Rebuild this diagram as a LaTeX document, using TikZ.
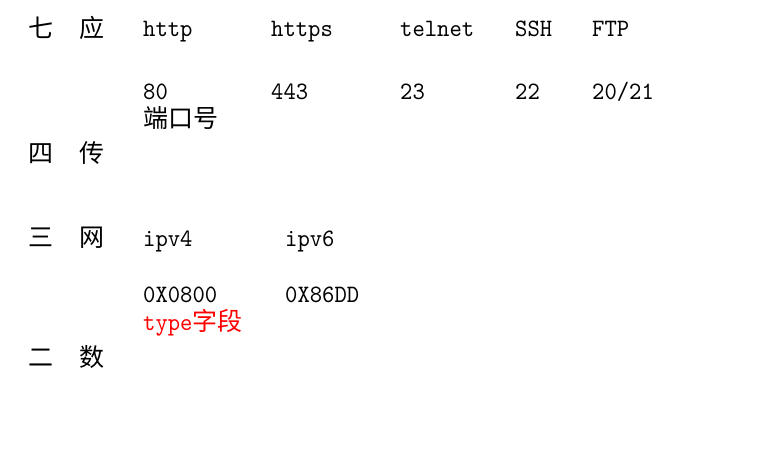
\documentclass[tikz,border=0pt]{standalone}
\usepackage{fontspec}
\usepackage{tikz}
\usetikzlibrary{positioning}
\newfontfamily\cjkfont{Noto Sans CJK SC}
\newfontfamily\latfont[FakeStretch=0.94]{lmmono10-regular.otf}
\definecolor{txtclr}{rgb}{0, 0, 0}
\definecolor{keyclr}{rgb}{1, 0, 0}
\tikzset{ %
  ,every node/.style={inner sep=0, anchor=base west}
  ,layer/.style={font=\cjkfont\fontsize{25}{25}\selectfont, text=txtclr}
  ,proto/.style={font=\latfont\fontsize{25}{25}\selectfont, text=txtclr}
  ,note/.style={font=\cjkfont\fontsize{25}{25}\selectfont, text=txtclr}
  ,field/.style={font=\fontsize{25}{25}\selectfont, text=keyclr}
}
\begin{document}
\begin{tikzpicture}[x=1pt, y=-1pt]
      \useasboundingbox (0,0) rectangle (778,453);
      \draw 
      node[layer] (L7) at (28,37) {七}
      node[layer] (L7n) at (79,37) {应}
      node[proto] (http) at (143,36) {http}
      node[proto] (https) at (271,36) {https}
      node[proto] (telnet) at (400,36) {telnet}
      node[proto] (ssh) at (515,36) {SSH}
      node[proto] (ftp) at (592,36) {FTP}
      node[proto] (p80) at (143,99) {80}
      node[proto] (p443) at (271,99) {443}
      node[proto] (p23) at (400,99) {23}
      node[proto] (p22) at (515,99) {22}
      node[proto] (p2021) at (592,99) {20/21}
      node[note] (port) at (143,127) {端口号}
      node[layer] (L4) at (28,162) {四}
      node[layer] (L4n) at (79,162) {传};
      \draw 
      node[layer] (L3) at (28,246) {三}
      node[layer] (L3n) at (79,246) {网}
      node[proto] (ipv4) at (143,246) {ipv4}
      node[proto] (ipv6) at (285,246) {ipv6}
      node[proto] (t4) at (143,302) {0X0800}
      node[proto] (t6) at (285,302) {0X86DD}
      node[field] (type) at (143,330) {{\latfont type}{\cjkfont\fontsize{25}{25}\selectfont 字段}}
      node[layer] (L2) at (28,366) {二}
      node[layer] (L2n) at (79,366) {数};
\end{tikzpicture}
\end{document}
